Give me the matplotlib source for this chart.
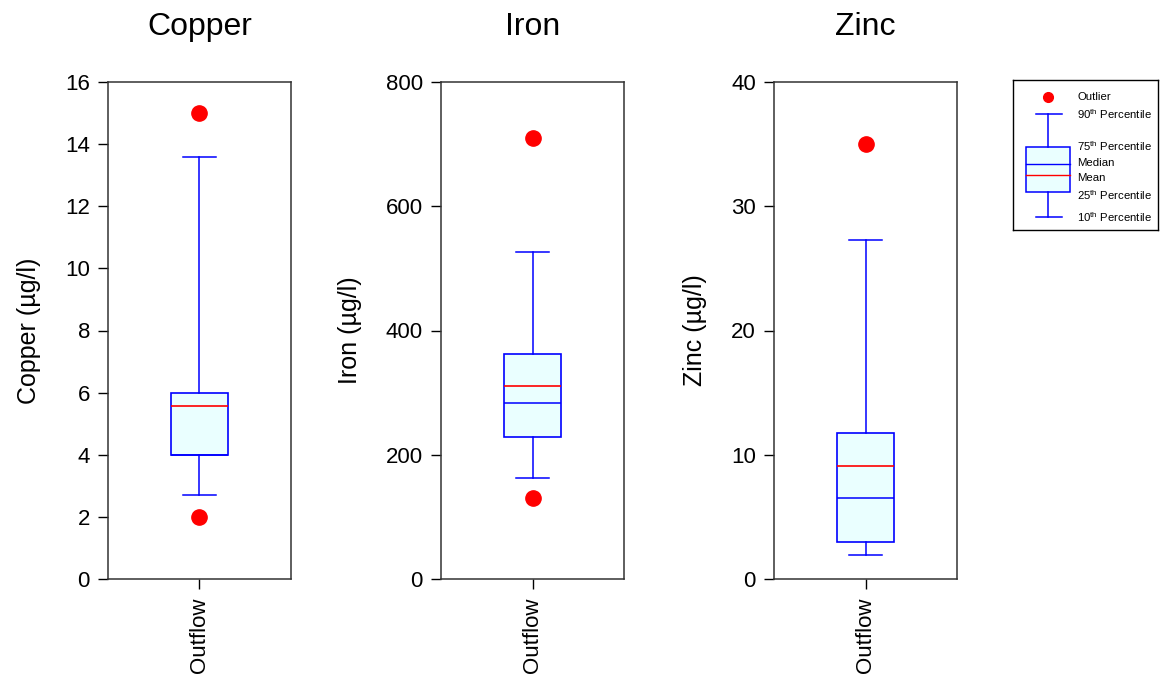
import numpy as np
import matplotlib
matplotlib.use('Agg')
import matplotlib.pyplot as plt

plt.rcParams['font.family'] = ['Liberation Sans', 'DejaVu Sans']
plt.rcParams['mathtext.fontset'] = 'custom'
plt.rcParams['mathtext.rm'] = 'Liberation Sans'

# data (percentiles per metal, one "Outflow" group)
metals = ['Copper', 'Iron', 'Zinc']
units = ['Copper (µg/l)', 'Iron (µg/l)', 'Zinc (µg/l)']
category = 'Outflow'
p10 = [2.7, 163, 1.95]
q1 = [4.0, 229, 3.0]
medians = [4.0, 284, 6.5]
means = [5.57, 311, 9.1]
q3 = [6.0, 362, 11.75]
p90 = [13.6, 527, 27.3]
outliers = [[15.0, 2.0], [710, 130], [35.0]]
ylims = [(0, 16), (0, 800), (0, 40)]
yticks = [np.arange(0, 17, 2), np.arange(0, 801, 200), np.arange(0, 41, 10)]

W, H = 1161, 677
fig = plt.figure(figsize=(W / 100, H / 100), dpi=100)

lefts = [108, 441, 774]
ax_w, top, bot = 183, 82, 579

blue = '#0000ff'
fill = '#eaffff'

for i, name in enumerate(metals):
    ax = fig.add_axes([lefts[i] / W, 1 - bot / H, ax_w / W, (bot - top) / H])
    st = dict(label=category, whislo=p10[i], q1=q1[i], med=medians[i],
              q3=q3[i], whishi=p90[i], mean=means[i], fliers=outliers[i])
    ax.bxp([st], positions=[1], widths=0.31, capwidths=0.18, patch_artist=True,
           showmeans=True, meanline=True,
           boxprops=dict(facecolor=fill, edgecolor=blue, linewidth=1.2),
           whiskerprops=dict(color=blue, linewidth=1.1),
           capprops=dict(color=blue, linewidth=1.1),
           medianprops=dict(color=blue, linewidth=1.1),
           meanprops=dict(color='red', linestyle='-', linewidth=1.2),
           flierprops=dict(marker='o', markerfacecolor='red', markeredgecolor='red',
                           markersize=11))
    ax.set_xlim(0.5, 1.5)
    ax.set_ylim(*ylims[i])
    ax.set_yticks(yticks[i])
    ax.set_xticks([1])
    ax.set_xticklabels([category], rotation=90, fontsize=16)
    ax.tick_params(axis='both', direction='out', length=7, width=1, labelsize=16, pad=6)
    for s in ax.spines.values():
        s.set_linewidth(1.1)
        s.set_color('#333333')
    ax.set_ylabel(units[i], fontsize=18, labelpad=17)
    ax.set_title(name, fontsize=23, pad=34)

# legend key
lg = fig.add_axes([1013 / W, 1 - 230 / H, 145 / W, 150 / H])
lg.set_xlim(0, 145)
lg.set_ylim(150, 0)
lg.set_xticks([])
lg.set_yticks([])
for s in lg.spines.values():
    s.set_linewidth(1.0)
lg.plot([35], [17], 'o', color='red', markersize=7)
lg.add_patch(plt.Rectangle((13, 67), 44, 45, facecolor=fill, edgecolor=blue, linewidth=1.1))
lg.plot([35, 35], [34, 67], color=blue, lw=1.1)
lg.plot([35, 35], [112, 137], color=blue, lw=1.1)
lg.plot([23, 49], [34, 34], color=blue, lw=1.1)
lg.plot([23, 49], [137, 137], color=blue, lw=1.1)
lg.plot([13, 57], [84, 84], color=blue, lw=1.0)
lg.plot([13, 57], [95, 95], color='red', lw=1.0)
labels = [('Outlier', 17), (r'90$^{\mathrm{th}}$ Percentile', 34),
          (r'75$^{\mathrm{th}}$ Percentile', 66), ('Median', 83),
          ('Mean', 98), (r'25$^{\mathrm{th}}$ Percentile', 115),
          (r'10$^{\mathrm{th}}$ Percentile', 137)]
for txt, y in labels:
    lg.text(64, y, txt, fontsize=8.2, va='center', ha='left')

fig.savefig('out.png', dpi=100)
